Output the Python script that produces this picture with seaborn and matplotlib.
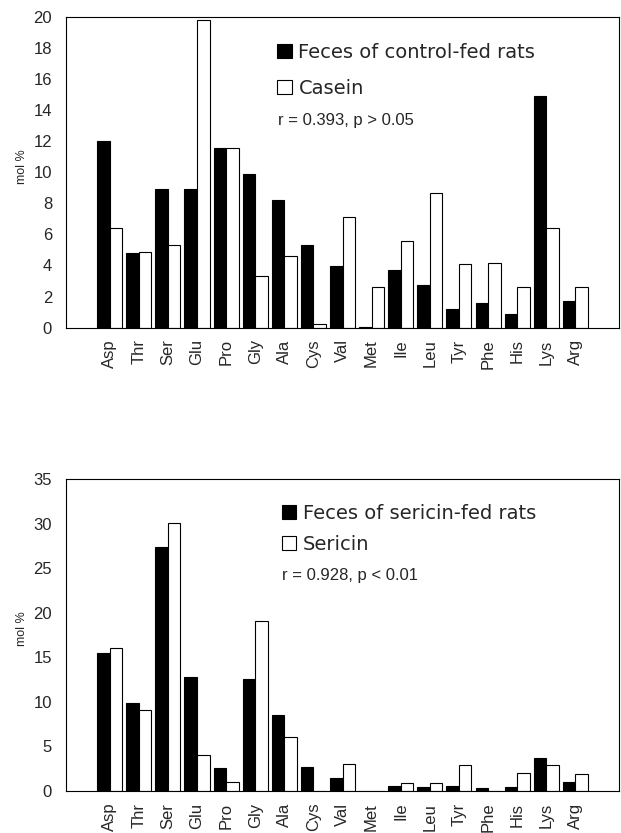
import pandas as pd
import seaborn as sns
import matplotlib.pyplot as plt
from matplotlib.patches import Patch

amino_acids = ['Asp', 'Thr', 'Ser', 'Glu', 'Pro', 'Gly', 'Ala', 'Cys', 'Val',
               'Met', 'Ile', 'Leu', 'Tyr', 'Phe', 'His', 'Lys', 'Arg']

# top panel: control diet
feces_control = [12.0, 4.8, 8.9, 8.9, 11.6, 9.9, 8.25, 5.3, 3.95,
                 0.05, 3.7, 2.75, 1.2, 1.6, 0.9, 14.9, 1.7]
casein = [6.4, 4.9, 5.3, 19.8, 11.6, 3.3, 4.6, 0.2, 7.1,
          2.6, 5.6, 8.7, 4.1, 4.15, 2.6, 6.4, 2.6]

# bottom panel: sericin diet
feces_sericin = [15.5, 9.9, 27.4, 12.8, 2.6, 12.6, 8.5, 2.7, 1.5,
                 0.0, 0.55, 0.5, 0.6, 0.35, 0.5, 3.7, 1.0]
sericin = [16.1, 9.1, 30.1, 4.1, 1.0, 19.1, 6.1, 0.05, 3.0,
           0.0, 0.9, 0.9, 2.9, 0.05, 2.0, 2.9, 1.9]

top_labels = ['Feces of control-fed rats', 'Casein']
bottom_labels = ['Feces of sericin-fed rats', 'Sericin']
top_stat = 'r = 0.393, p > 0.05'
bottom_stat = 'r = 0.928, p < 0.01'


def long_table(first, second, names):
    df = pd.DataFrame({'amino': amino_acids, names[0]: first, names[1]: second})
    return df.melt(id_vars='amino', var_name='sample', value_name='mol')


def draw_panel(ax, df, names, stat, ymax, ystep, leg_anchor, spacing, stat_pos):
    sns.barplot(data=df, x='amino', y='mol', hue='sample', order=amino_acids,
                hue_order=names, palette=['black', 'white'], saturation=1,
                edgecolor='black', linewidth=0.8, width=0.86, legend=False, ax=ax)
    ax.set_xlim(-1.5, len(amino_acids) + 0.5)
    ax.set_ylim(0, ymax)
    ax.set_yticks(range(0, ymax + 1, ystep))
    ax.set_xlabel('')
    ax.set_ylabel('mol %', fontsize=9)
    ax.yaxis.set_label_coords(-0.068, 0.52)
    ax.tick_params(axis='y', length=0, pad=10, labelsize=12)
    ax.tick_params(axis='x', length=0, pad=8.5, labelsize=12, rotation=90)
    for s in ax.spines.values():
        s.set_visible(True)
        s.set_color('black')
        s.set_linewidth(0.8)
    handles = [Patch(facecolor='black', edgecolor='black', linewidth=0.8),
               Patch(facecolor='white', edgecolor='black', linewidth=0.8)]
    ax.legend(handles, names, loc='upper left', bbox_to_anchor=leg_anchor,
              frameon=False, borderpad=0, borderaxespad=0,
              prop={'family': 'DejaVu Sans', 'size': 14},
              handlelength=0.75, handleheight=0.75, handletextpad=0.35,
              labelspacing=spacing)
    ax.text(stat_pos[0], stat_pos[1], stat, transform=ax.transAxes,
            fontsize=12, va='center', ha='left')


sns.set_theme(style='white')
plt.rcParams['font.family'] = ['Liberation Sans', 'DejaVu Sans']

fig = plt.figure(figsize=(6.21, 8.33), dpi=100)
ax_top = fig.add_axes([0.1063, 0.6068, 0.8905, 0.3724])
ax_bot = fig.add_axes([0.1063, 0.0504, 0.8905, 0.3742])

draw_panel(ax_top, long_table(feces_control, casein, top_labels), top_labels,
           top_stat, 20, 2, (0.3816, 0.918), 0.87, (0.383, 0.669))
draw_panel(ax_bot, long_table(feces_sericin, sericin, bottom_labels), bottom_labels,
           bottom_stat, 35, 5, (0.39, 0.922), 0.64, (0.39, 0.69))

fig.savefig('out.png', dpi=100)
